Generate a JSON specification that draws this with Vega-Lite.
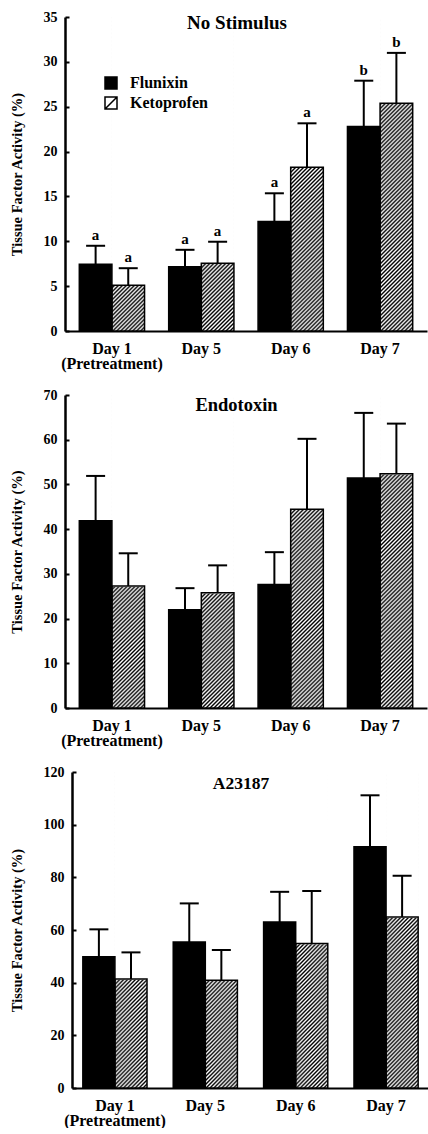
{
  "$schema": "https://vega.github.io/schema/vega-lite/v6.json",
  "background": "white",
  "padding": {"left": 9, "top": 10, "right": 0, "bottom": 0},
  "spacing": 17,
  "bounds": "full",
  "datasets": {
    "tf": [
      {"panel": "No Stimulus", "day": "Day 1", "drug": "Flunixin", "mean": 7.45, "upper": 9.5, "letter": "a"},
      {"panel": "No Stimulus", "day": "Day 1", "drug": "Ketoprofen", "mean": 5.1, "upper": 7.0, "letter": "a"},
      {"panel": "No Stimulus", "day": "Day 5", "drug": "Flunixin", "mean": 7.15, "upper": 9.05, "letter": "a"},
      {"panel": "No Stimulus", "day": "Day 5", "drug": "Ketoprofen", "mean": 7.55, "upper": 9.95, "letter": "a"},
      {"panel": "No Stimulus", "day": "Day 6", "drug": "Flunixin", "mean": 12.2, "upper": 15.35, "letter": "a"},
      {"panel": "No Stimulus", "day": "Day 6", "drug": "Ketoprofen", "mean": 18.25, "upper": 23.15, "letter": "a"},
      {"panel": "No Stimulus", "day": "Day 7", "drug": "Flunixin", "mean": 22.8, "upper": 27.9, "letter": "b"},
      {"panel": "No Stimulus", "day": "Day 7", "drug": "Ketoprofen", "mean": 25.4, "upper": 31.0, "letter": "b"},
      {"panel": "Endotoxin", "day": "Day 1", "drug": "Flunixin", "mean": 41.85, "upper": 51.9, "letter": ""},
      {"panel": "Endotoxin", "day": "Day 1", "drug": "Ketoprofen", "mean": 27.3, "upper": 34.6, "letter": ""},
      {"panel": "Endotoxin", "day": "Day 5", "drug": "Flunixin", "mean": 22.0, "upper": 26.8, "letter": ""},
      {"panel": "Endotoxin", "day": "Day 5", "drug": "Ketoprofen", "mean": 25.8, "upper": 31.9, "letter": ""},
      {"panel": "Endotoxin", "day": "Day 6", "drug": "Flunixin", "mean": 27.6, "upper": 34.85, "letter": ""},
      {"panel": "Endotoxin", "day": "Day 6", "drug": "Ketoprofen", "mean": 44.45, "upper": 60.2, "letter": ""},
      {"panel": "Endotoxin", "day": "Day 7", "drug": "Flunixin", "mean": 51.45, "upper": 66.0, "letter": ""},
      {"panel": "Endotoxin", "day": "Day 7", "drug": "Ketoprofen", "mean": 52.4, "upper": 63.6, "letter": ""},
      {"panel": "A23187", "day": "Day 1", "drug": "Flunixin", "mean": 49.8, "upper": 60.25, "letter": ""},
      {"panel": "A23187", "day": "Day 1", "drug": "Ketoprofen", "mean": 41.4, "upper": 51.5, "letter": ""},
      {"panel": "A23187", "day": "Day 5", "drug": "Flunixin", "mean": 55.45, "upper": 70.1, "letter": ""},
      {"panel": "A23187", "day": "Day 5", "drug": "Ketoprofen", "mean": 40.9, "upper": 52.4, "letter": ""},
      {"panel": "A23187", "day": "Day 6", "drug": "Flunixin", "mean": 63.0, "upper": 74.5, "letter": ""},
      {"panel": "A23187", "day": "Day 6", "drug": "Ketoprofen", "mean": 54.9, "upper": 74.8, "letter": ""},
      {"panel": "A23187", "day": "Day 7", "drug": "Flunixin", "mean": 91.6, "upper": 111.15, "letter": ""},
      {"panel": "A23187", "day": "Day 7", "drug": "Ketoprofen", "mean": 64.9, "upper": 80.6, "letter": ""}
    ]
  },
  "resolve": {
    "scale": {"fill": "independent", "x": "independent", "y": "independent", "xOffset": "independent"},
    "legend": {"fill": "independent"}
  },
  "vconcat": [
    {
      "width": 362,
      "height": 314,
      "data": {"name": "tf"},
      "transform": [{"filter": "datum.panel === 'No Stimulus'"}],
      "layer": [
        {
          "encoding": {
            "x": {"field": "day", "type": "nominal", "sort": ["Day 1", "Day 5", "Day 6", "Day 7"], "title": null,
                  "scale": {"paddingInner": 0.27, "paddingOuter": 0.16},
                  "axis": {"labelExpr": "datum.value === 'Day 1' ? ['Day 1', '(Pretreatment)'] : datum.value"}},
            "xOffset": {"field": "drug", "type": "nominal", "sort": ["Flunixin", "Ketoprofen"], "scale": {"paddingInner": 0, "paddingOuter": 0}}
          },
          "layer": [
            {
              "transform": [{"filter": "datum.drug === 'Ketoprofen'"}],
              "mark": {"type": "bar", "strokeWidth": 0,
                "fill": {"gradient": "linear", "x1": 0, "y1": 0, "x2": 0.1134, "y2": 1.0921, "stops": [
                {"offset": 0, "color": "#000"}, {"offset": 0.0057, "color": "#fff"}, {"offset": 0.0115, "color": "#000"}, {"offset": 0.0172, "color": "#fff"},
                {"offset": 0.023, "color": "#000"}, {"offset": 0.0287, "color": "#fff"}, {"offset": 0.0345, "color": "#000"}, {"offset": 0.0402, "color": "#fff"},
                {"offset": 0.046, "color": "#000"}, {"offset": 0.0517, "color": "#fff"}, {"offset": 0.0575, "color": "#000"}, {"offset": 0.0632, "color": "#fff"},
                {"offset": 0.069, "color": "#000"}, {"offset": 0.0747, "color": "#fff"}, {"offset": 0.0805, "color": "#000"}, {"offset": 0.0862, "color": "#fff"},
                {"offset": 0.092, "color": "#000"}, {"offset": 0.0977, "color": "#fff"}, {"offset": 0.1034, "color": "#000"}, {"offset": 0.1092, "color": "#fff"},
                {"offset": 0.1149, "color": "#000"}, {"offset": 0.1207, "color": "#fff"}, {"offset": 0.1264, "color": "#000"}, {"offset": 0.1322, "color": "#fff"},
                {"offset": 0.1379, "color": "#000"}, {"offset": 0.1437, "color": "#fff"}, {"offset": 0.1494, "color": "#000"}, {"offset": 0.1552, "color": "#fff"},
                {"offset": 0.1609, "color": "#000"}, {"offset": 0.1667, "color": "#fff"}, {"offset": 0.1724, "color": "#000"}, {"offset": 0.1782, "color": "#fff"},
                {"offset": 0.1839, "color": "#000"}, {"offset": 0.1897, "color": "#fff"}, {"offset": 0.1954, "color": "#000"}, {"offset": 0.2011, "color": "#fff"},
                {"offset": 0.2069, "color": "#000"}, {"offset": 0.2126, "color": "#fff"}, {"offset": 0.2184, "color": "#000"}, {"offset": 0.2241, "color": "#fff"},
                {"offset": 0.2299, "color": "#000"}, {"offset": 0.2356, "color": "#fff"}, {"offset": 0.2414, "color": "#000"}, {"offset": 0.2471, "color": "#fff"},
                {"offset": 0.2529, "color": "#000"}, {"offset": 0.2586, "color": "#fff"}, {"offset": 0.2644, "color": "#000"}, {"offset": 0.2701, "color": "#fff"},
                {"offset": 0.2759, "color": "#000"}, {"offset": 0.2816, "color": "#fff"}, {"offset": 0.2874, "color": "#000"}, {"offset": 0.2931, "color": "#fff"},
                {"offset": 0.2989, "color": "#000"}, {"offset": 0.3046, "color": "#fff"}, {"offset": 0.3103, "color": "#000"}, {"offset": 0.3161, "color": "#fff"},
                {"offset": 0.3218, "color": "#000"}, {"offset": 0.3276, "color": "#fff"}, {"offset": 0.3333, "color": "#000"}, {"offset": 0.3391, "color": "#fff"},
                {"offset": 0.3448, "color": "#000"}, {"offset": 0.3506, "color": "#fff"}, {"offset": 0.3563, "color": "#000"}, {"offset": 0.3621, "color": "#fff"},
                {"offset": 0.3678, "color": "#000"}, {"offset": 0.3736, "color": "#fff"}, {"offset": 0.3793, "color": "#000"}, {"offset": 0.3851, "color": "#fff"},
                {"offset": 0.3908, "color": "#000"}, {"offset": 0.3966, "color": "#fff"}, {"offset": 0.4023, "color": "#000"}, {"offset": 0.408, "color": "#fff"},
                {"offset": 0.4138, "color": "#000"}, {"offset": 0.4195, "color": "#fff"}, {"offset": 0.4253, "color": "#000"}, {"offset": 0.431, "color": "#fff"},
                {"offset": 0.4368, "color": "#000"}, {"offset": 0.4425, "color": "#fff"}, {"offset": 0.4483, "color": "#000"}, {"offset": 0.454, "color": "#fff"},
                {"offset": 0.4598, "color": "#000"}, {"offset": 0.4655, "color": "#fff"}, {"offset": 0.4713, "color": "#000"}, {"offset": 0.477, "color": "#fff"},
                {"offset": 0.4828, "color": "#000"}, {"offset": 0.4885, "color": "#fff"}, {"offset": 0.4943, "color": "#000"}, {"offset": 0.5, "color": "#fff"},
                {"offset": 0.5057, "color": "#000"}, {"offset": 0.5115, "color": "#fff"}, {"offset": 0.5172, "color": "#000"}, {"offset": 0.523, "color": "#fff"},
                {"offset": 0.5287, "color": "#000"}, {"offset": 0.5345, "color": "#fff"}, {"offset": 0.5402, "color": "#000"}, {"offset": 0.546, "color": "#fff"},
                {"offset": 0.5517, "color": "#000"}, {"offset": 0.5575, "color": "#fff"}, {"offset": 0.5632, "color": "#000"}, {"offset": 0.569, "color": "#fff"},
                {"offset": 0.5747, "color": "#000"}, {"offset": 0.5805, "color": "#fff"}, {"offset": 0.5862, "color": "#000"}, {"offset": 0.592, "color": "#fff"},
                {"offset": 0.5977, "color": "#000"}, {"offset": 0.6034, "color": "#fff"}, {"offset": 0.6092, "color": "#000"}, {"offset": 0.6149, "color": "#fff"},
                {"offset": 0.6207, "color": "#000"}, {"offset": 0.6264, "color": "#fff"}, {"offset": 0.6322, "color": "#000"}, {"offset": 0.6379, "color": "#fff"},
                {"offset": 0.6437, "color": "#000"}, {"offset": 0.6494, "color": "#fff"}, {"offset": 0.6552, "color": "#000"}, {"offset": 0.6609, "color": "#fff"},
                {"offset": 0.6667, "color": "#000"}, {"offset": 0.6724, "color": "#fff"}, {"offset": 0.6782, "color": "#000"}, {"offset": 0.6839, "color": "#fff"},
                {"offset": 0.6897, "color": "#000"}, {"offset": 0.6954, "color": "#fff"}, {"offset": 0.7011, "color": "#000"}, {"offset": 0.7069, "color": "#fff"},
                {"offset": 0.7126, "color": "#000"}, {"offset": 0.7184, "color": "#fff"}, {"offset": 0.7241, "color": "#000"}, {"offset": 0.7299, "color": "#fff"},
                {"offset": 0.7356, "color": "#000"}, {"offset": 0.7414, "color": "#fff"}, {"offset": 0.7471, "color": "#000"}, {"offset": 0.7529, "color": "#fff"},
                {"offset": 0.7586, "color": "#000"}, {"offset": 0.7644, "color": "#fff"}, {"offset": 0.7701, "color": "#000"}, {"offset": 0.7759, "color": "#fff"},
                {"offset": 0.7816, "color": "#000"}, {"offset": 0.7874, "color": "#fff"}, {"offset": 0.7931, "color": "#000"}, {"offset": 0.7989, "color": "#fff"},
                {"offset": 0.8046, "color": "#000"}, {"offset": 0.8103, "color": "#fff"}, {"offset": 0.8161, "color": "#000"}, {"offset": 0.8218, "color": "#fff"},
                {"offset": 0.8276, "color": "#000"}, {"offset": 0.8333, "color": "#fff"}, {"offset": 0.8391, "color": "#000"}, {"offset": 0.8448, "color": "#fff"},
                {"offset": 0.8506, "color": "#000"}, {"offset": 0.8563, "color": "#fff"}, {"offset": 0.8621, "color": "#000"}, {"offset": 0.8678, "color": "#fff"},
                {"offset": 0.8736, "color": "#000"}, {"offset": 0.8793, "color": "#fff"}, {"offset": 0.8851, "color": "#000"}, {"offset": 0.8908, "color": "#fff"},
                {"offset": 0.8966, "color": "#000"}, {"offset": 0.9023, "color": "#fff"}, {"offset": 0.908, "color": "#000"}, {"offset": 0.9138, "color": "#fff"},
                {"offset": 0.9195, "color": "#000"}, {"offset": 0.9253, "color": "#fff"}, {"offset": 0.931, "color": "#000"}, {"offset": 0.9368, "color": "#fff"},
                {"offset": 0.9425, "color": "#000"}, {"offset": 0.9483, "color": "#fff"}, {"offset": 0.954, "color": "#000"}, {"offset": 0.9598, "color": "#fff"},
                {"offset": 0.9655, "color": "#000"}, {"offset": 0.9713, "color": "#fff"}, {"offset": 0.977, "color": "#000"}, {"offset": 0.9828, "color": "#fff"},
                {"offset": 0.9885, "color": "#000"}, {"offset": 0.9943, "color": "#fff"}, {"offset": 1, "color": "#000"}]}},
              "encoding": {
                "y": {"datum": 35, "type": "quantitative", "title": "Tissue Factor Activity (%)",
                      "scale": {"domain": [0, 35], "nice": false},
                      "axis": {"values": [0, 2.5, 5, 7.5, 10, 12.5, 15, 17.5, 20, 22.5, 25, 27.5, 30, 32.5, 35], "labelExpr": "datum.value % 5 === 0 ? datum.label : ''"}}
              }
            },
            {
              "transform": [{"filter": "datum.drug === 'Ketoprofen'"}],
              "mark": {"type": "bar", "fill": "#ffffff", "stroke": "#ffffff", "strokeWidth": 1.5},
              "encoding": {
                "y": {"field": "mean", "type": "quantitative", "title": "Tissue Factor Activity (%)"},
                "y2": {"datum": 35}
              }
            },
            {
              "mark": {"type": "bar", "stroke": "#000000", "strokeWidth": 1.5},
              "encoding": {
                "y": {"field": "mean", "type": "quantitative", "stack": null, "title": "Tissue Factor Activity (%)"},
                "fill": {"field": "drug", "type": "nominal", "scale": {"domain": ["Flunixin", "Ketoprofen"], "range": ["#000000", "transparent"]},
                         "legend": {"title": null, "orient": "none", "legendX": 38, "legendY": 58, "padding": 0,
                                    "symbolType": "M-1,-1H1V1H-1Z M-1,1L1,-1", "symbolSize": 144, "symbolStrokeWidth": 1.5, "symbolStrokeColor": "#000000",
                                    "labelFont": "Liberation Serif", "labelFontWeight": "bold", "labelFontSize": 16, "labelColor": "#000000",
                                    "labelOffset": 11, "rowPadding": 2, "zindex": 1}}
              }
            },
            {
              "mark": {"type": "rule", "color": "#000000", "strokeWidth": 2},
              "encoding": {
                "y": {"field": "mean", "type": "quantitative", "title": "Tissue Factor Activity (%)"},
                "y2": {"field": "upper"}
              }
            },
            {
              "mark": {"type": "tick", "orient": "horizontal", "color": "#000000", "size": 19, "thickness": 2, "opacity": 1},
              "encoding": {
                "y": {"field": "upper", "type": "quantitative", "title": "Tissue Factor Activity (%)"}
              }
            },
            {
              "transform": [{"filter": "datum.letter !== ''"}],
              "mark": {"type": "text", "color": "#000000", "font": "Liberation Serif", "fontWeight": "bold", "fontSize": 15, "baseline": "alphabetic", "dy": -6},
              "encoding": {
                "y": {"field": "upper", "type": "quantitative", "title": "Tissue Factor Activity (%)"},
                "text": {"field": "letter"}
              }
            }
          ]
        },
        {
          "transform": [{"filter": "datum.day === 'Day 1' && datum.drug === 'Flunixin'"}],
          "mark": {"type": "text", "color": "#000000", "font": "Liberation Serif", "fontWeight": "bold", "fontSize": 19, "baseline": "alphabetic", "align": "center", "dx": -9, "dy": 12},
          "encoding": {
            "y": {"datum": 35, "type": "quantitative"},
            "text": {"field": "panel"}
          }
        }
      ]
    },
    {
      "width": 362,
      "height": 313,
      "data": {"name": "tf"},
      "transform": [{"filter": "datum.panel === 'Endotoxin'"}],
      "layer": [
        {
          "encoding": {
            "x": {"field": "day", "type": "nominal", "sort": ["Day 1", "Day 5", "Day 6", "Day 7"], "title": null,
                  "scale": {"paddingInner": 0.27, "paddingOuter": 0.16},
                  "axis": {"labelExpr": "datum.value === 'Day 1' ? ['Day 1', '(Pretreatment)'] : datum.value"}},
            "xOffset": {"field": "drug", "type": "nominal", "sort": ["Flunixin", "Ketoprofen"], "scale": {"paddingInner": 0, "paddingOuter": 0}}
          },
          "layer": [
            {
              "transform": [{"filter": "datum.drug === 'Ketoprofen'"}],
              "mark": {"type": "bar", "strokeWidth": 0,
                "fill": {"gradient": "linear", "x1": 0, "y1": 0, "x2": 0.1134, "y2": 1.0921, "stops": [
                {"offset": 0, "color": "#000"}, {"offset": 0.0057, "color": "#fff"}, {"offset": 0.0115, "color": "#000"}, {"offset": 0.0172, "color": "#fff"},
                {"offset": 0.023, "color": "#000"}, {"offset": 0.0287, "color": "#fff"}, {"offset": 0.0345, "color": "#000"}, {"offset": 0.0402, "color": "#fff"},
                {"offset": 0.046, "color": "#000"}, {"offset": 0.0517, "color": "#fff"}, {"offset": 0.0575, "color": "#000"}, {"offset": 0.0632, "color": "#fff"},
                {"offset": 0.069, "color": "#000"}, {"offset": 0.0747, "color": "#fff"}, {"offset": 0.0805, "color": "#000"}, {"offset": 0.0862, "color": "#fff"},
                {"offset": 0.092, "color": "#000"}, {"offset": 0.0977, "color": "#fff"}, {"offset": 0.1034, "color": "#000"}, {"offset": 0.1092, "color": "#fff"},
                {"offset": 0.1149, "color": "#000"}, {"offset": 0.1207, "color": "#fff"}, {"offset": 0.1264, "color": "#000"}, {"offset": 0.1322, "color": "#fff"},
                {"offset": 0.1379, "color": "#000"}, {"offset": 0.1437, "color": "#fff"}, {"offset": 0.1494, "color": "#000"}, {"offset": 0.1552, "color": "#fff"},
                {"offset": 0.1609, "color": "#000"}, {"offset": 0.1667, "color": "#fff"}, {"offset": 0.1724, "color": "#000"}, {"offset": 0.1782, "color": "#fff"},
                {"offset": 0.1839, "color": "#000"}, {"offset": 0.1897, "color": "#fff"}, {"offset": 0.1954, "color": "#000"}, {"offset": 0.2011, "color": "#fff"},
                {"offset": 0.2069, "color": "#000"}, {"offset": 0.2126, "color": "#fff"}, {"offset": 0.2184, "color": "#000"}, {"offset": 0.2241, "color": "#fff"},
                {"offset": 0.2299, "color": "#000"}, {"offset": 0.2356, "color": "#fff"}, {"offset": 0.2414, "color": "#000"}, {"offset": 0.2471, "color": "#fff"},
                {"offset": 0.2529, "color": "#000"}, {"offset": 0.2586, "color": "#fff"}, {"offset": 0.2644, "color": "#000"}, {"offset": 0.2701, "color": "#fff"},
                {"offset": 0.2759, "color": "#000"}, {"offset": 0.2816, "color": "#fff"}, {"offset": 0.2874, "color": "#000"}, {"offset": 0.2931, "color": "#fff"},
                {"offset": 0.2989, "color": "#000"}, {"offset": 0.3046, "color": "#fff"}, {"offset": 0.3103, "color": "#000"}, {"offset": 0.3161, "color": "#fff"},
                {"offset": 0.3218, "color": "#000"}, {"offset": 0.3276, "color": "#fff"}, {"offset": 0.3333, "color": "#000"}, {"offset": 0.3391, "color": "#fff"},
                {"offset": 0.3448, "color": "#000"}, {"offset": 0.3506, "color": "#fff"}, {"offset": 0.3563, "color": "#000"}, {"offset": 0.3621, "color": "#fff"},
                {"offset": 0.3678, "color": "#000"}, {"offset": 0.3736, "color": "#fff"}, {"offset": 0.3793, "color": "#000"}, {"offset": 0.3851, "color": "#fff"},
                {"offset": 0.3908, "color": "#000"}, {"offset": 0.3966, "color": "#fff"}, {"offset": 0.4023, "color": "#000"}, {"offset": 0.408, "color": "#fff"},
                {"offset": 0.4138, "color": "#000"}, {"offset": 0.4195, "color": "#fff"}, {"offset": 0.4253, "color": "#000"}, {"offset": 0.431, "color": "#fff"},
                {"offset": 0.4368, "color": "#000"}, {"offset": 0.4425, "color": "#fff"}, {"offset": 0.4483, "color": "#000"}, {"offset": 0.454, "color": "#fff"},
                {"offset": 0.4598, "color": "#000"}, {"offset": 0.4655, "color": "#fff"}, {"offset": 0.4713, "color": "#000"}, {"offset": 0.477, "color": "#fff"},
                {"offset": 0.4828, "color": "#000"}, {"offset": 0.4885, "color": "#fff"}, {"offset": 0.4943, "color": "#000"}, {"offset": 0.5, "color": "#fff"},
                {"offset": 0.5057, "color": "#000"}, {"offset": 0.5115, "color": "#fff"}, {"offset": 0.5172, "color": "#000"}, {"offset": 0.523, "color": "#fff"},
                {"offset": 0.5287, "color": "#000"}, {"offset": 0.5345, "color": "#fff"}, {"offset": 0.5402, "color": "#000"}, {"offset": 0.546, "color": "#fff"},
                {"offset": 0.5517, "color": "#000"}, {"offset": 0.5575, "color": "#fff"}, {"offset": 0.5632, "color": "#000"}, {"offset": 0.569, "color": "#fff"},
                {"offset": 0.5747, "color": "#000"}, {"offset": 0.5805, "color": "#fff"}, {"offset": 0.5862, "color": "#000"}, {"offset": 0.592, "color": "#fff"},
                {"offset": 0.5977, "color": "#000"}, {"offset": 0.6034, "color": "#fff"}, {"offset": 0.6092, "color": "#000"}, {"offset": 0.6149, "color": "#fff"},
                {"offset": 0.6207, "color": "#000"}, {"offset": 0.6264, "color": "#fff"}, {"offset": 0.6322, "color": "#000"}, {"offset": 0.6379, "color": "#fff"},
                {"offset": 0.6437, "color": "#000"}, {"offset": 0.6494, "color": "#fff"}, {"offset": 0.6552, "color": "#000"}, {"offset": 0.6609, "color": "#fff"},
                {"offset": 0.6667, "color": "#000"}, {"offset": 0.6724, "color": "#fff"}, {"offset": 0.6782, "color": "#000"}, {"offset": 0.6839, "color": "#fff"},
                {"offset": 0.6897, "color": "#000"}, {"offset": 0.6954, "color": "#fff"}, {"offset": 0.7011, "color": "#000"}, {"offset": 0.7069, "color": "#fff"},
                {"offset": 0.7126, "color": "#000"}, {"offset": 0.7184, "color": "#fff"}, {"offset": 0.7241, "color": "#000"}, {"offset": 0.7299, "color": "#fff"},
                {"offset": 0.7356, "color": "#000"}, {"offset": 0.7414, "color": "#fff"}, {"offset": 0.7471, "color": "#000"}, {"offset": 0.7529, "color": "#fff"},
                {"offset": 0.7586, "color": "#000"}, {"offset": 0.7644, "color": "#fff"}, {"offset": 0.7701, "color": "#000"}, {"offset": 0.7759, "color": "#fff"},
                {"offset": 0.7816, "color": "#000"}, {"offset": 0.7874, "color": "#fff"}, {"offset": 0.7931, "color": "#000"}, {"offset": 0.7989, "color": "#fff"},
                {"offset": 0.8046, "color": "#000"}, {"offset": 0.8103, "color": "#fff"}, {"offset": 0.8161, "color": "#000"}, {"offset": 0.8218, "color": "#fff"},
                {"offset": 0.8276, "color": "#000"}, {"offset": 0.8333, "color": "#fff"}, {"offset": 0.8391, "color": "#000"}, {"offset": 0.8448, "color": "#fff"},
                {"offset": 0.8506, "color": "#000"}, {"offset": 0.8563, "color": "#fff"}, {"offset": 0.8621, "color": "#000"}, {"offset": 0.8678, "color": "#fff"},
                {"offset": 0.8736, "color": "#000"}, {"offset": 0.8793, "color": "#fff"}, {"offset": 0.8851, "color": "#000"}, {"offset": 0.8908, "color": "#fff"},
                {"offset": 0.8966, "color": "#000"}, {"offset": 0.9023, "color": "#fff"}, {"offset": 0.908, "color": "#000"}, {"offset": 0.9138, "color": "#fff"},
                {"offset": 0.9195, "color": "#000"}, {"offset": 0.9253, "color": "#fff"}, {"offset": 0.931, "color": "#000"}, {"offset": 0.9368, "color": "#fff"},
                {"offset": 0.9425, "color": "#000"}, {"offset": 0.9483, "color": "#fff"}, {"offset": 0.954, "color": "#000"}, {"offset": 0.9598, "color": "#fff"},
                {"offset": 0.9655, "color": "#000"}, {"offset": 0.9713, "color": "#fff"}, {"offset": 0.977, "color": "#000"}, {"offset": 0.9828, "color": "#fff"},
                {"offset": 0.9885, "color": "#000"}, {"offset": 0.9943, "color": "#fff"}, {"offset": 1, "color": "#000"}]}},
              "encoding": {
                "y": {"datum": 70, "type": "quantitative", "title": "Tissue Factor Activity (%)",
                      "scale": {"domain": [0, 70], "nice": false},
                      "axis": {"values": [0, 5, 10, 15, 20, 25, 30, 35, 40, 45, 50, 55, 60, 65, 70], "labelExpr": "datum.value % 10 === 0 ? datum.label : ''"}}
              }
            },
            {
              "transform": [{"filter": "datum.drug === 'Ketoprofen'"}],
              "mark": {"type": "bar", "fill": "#ffffff", "stroke": "#ffffff", "strokeWidth": 1.5},
              "encoding": {
                "y": {"field": "mean", "type": "quantitative", "title": "Tissue Factor Activity (%)"},
                "y2": {"datum": 70}
              }
            },
            {
              "mark": {"type": "bar", "stroke": "#000000", "strokeWidth": 1.5},
              "encoding": {
                "y": {"field": "mean", "type": "quantitative", "stack": null, "title": "Tissue Factor Activity (%)"},
                "fill": {"field": "drug", "type": "nominal", "scale": {"domain": ["Flunixin", "Ketoprofen"], "range": ["#000000", "transparent"]}, "legend": null}
              }
            },
            {
              "mark": {"type": "rule", "color": "#000000", "strokeWidth": 2},
              "encoding": {
                "y": {"field": "mean", "type": "quantitative", "title": "Tissue Factor Activity (%)"},
                "y2": {"field": "upper"}
              }
            },
            {
              "mark": {"type": "tick", "orient": "horizontal", "color": "#000000", "size": 19, "thickness": 2, "opacity": 1},
              "encoding": {
                "y": {"field": "upper", "type": "quantitative", "title": "Tissue Factor Activity (%)"}
              }
            }
          ]
        },
        {
          "transform": [{"filter": "datum.day === 'Day 1' && datum.drug === 'Flunixin'"}],
          "mark": {"type": "text", "color": "#000000", "font": "Liberation Serif", "fontWeight": "bold", "fontSize": 18.5, "baseline": "alphabetic", "align": "center", "dx": -9.5, "dy": 16},
          "encoding": {
            "y": {"datum": 70, "type": "quantitative"},
            "text": {"field": "panel"}
          }
        }
      ]
    },
    {
      "width": 364,
      "height": 316,
      "data": {"name": "tf"},
      "transform": [{"filter": "datum.panel === 'A23187'"}],
      "layer": [
        {
          "encoding": {
            "x": {"field": "day", "type": "nominal", "sort": ["Day 1", "Day 5", "Day 6", "Day 7"], "title": null,
                  "scale": {"paddingInner": 0.29, "paddingOuter": 0.12, "range": [7, 364]},
                  "axis": {"labelExpr": "datum.value === 'Day 1' ? ['Day 1', '(Pretreatment)'] : datum.value"}},
            "xOffset": {"field": "drug", "type": "nominal", "sort": ["Flunixin", "Ketoprofen"], "scale": {"paddingInner": 0, "paddingOuter": 0}}
          },
          "layer": [
            {
              "transform": [{"filter": "datum.drug === 'Ketoprofen'"}],
              "mark": {"type": "bar", "strokeWidth": 0,
                "fill": {"gradient": "linear", "x1": 0, "y1": 0, "x2": 0.1134, "y2": 1.0921, "stops": [
                {"offset": 0, "color": "#000"}, {"offset": 0.0057, "color": "#fff"}, {"offset": 0.0115, "color": "#000"}, {"offset": 0.0172, "color": "#fff"},
                {"offset": 0.023, "color": "#000"}, {"offset": 0.0287, "color": "#fff"}, {"offset": 0.0345, "color": "#000"}, {"offset": 0.0402, "color": "#fff"},
                {"offset": 0.046, "color": "#000"}, {"offset": 0.0517, "color": "#fff"}, {"offset": 0.0575, "color": "#000"}, {"offset": 0.0632, "color": "#fff"},
                {"offset": 0.069, "color": "#000"}, {"offset": 0.0747, "color": "#fff"}, {"offset": 0.0805, "color": "#000"}, {"offset": 0.0862, "color": "#fff"},
                {"offset": 0.092, "color": "#000"}, {"offset": 0.0977, "color": "#fff"}, {"offset": 0.1034, "color": "#000"}, {"offset": 0.1092, "color": "#fff"},
                {"offset": 0.1149, "color": "#000"}, {"offset": 0.1207, "color": "#fff"}, {"offset": 0.1264, "color": "#000"}, {"offset": 0.1322, "color": "#fff"},
                {"offset": 0.1379, "color": "#000"}, {"offset": 0.1437, "color": "#fff"}, {"offset": 0.1494, "color": "#000"}, {"offset": 0.1552, "color": "#fff"},
                {"offset": 0.1609, "color": "#000"}, {"offset": 0.1667, "color": "#fff"}, {"offset": 0.1724, "color": "#000"}, {"offset": 0.1782, "color": "#fff"},
                {"offset": 0.1839, "color": "#000"}, {"offset": 0.1897, "color": "#fff"}, {"offset": 0.1954, "color": "#000"}, {"offset": 0.2011, "color": "#fff"},
                {"offset": 0.2069, "color": "#000"}, {"offset": 0.2126, "color": "#fff"}, {"offset": 0.2184, "color": "#000"}, {"offset": 0.2241, "color": "#fff"},
                {"offset": 0.2299, "color": "#000"}, {"offset": 0.2356, "color": "#fff"}, {"offset": 0.2414, "color": "#000"}, {"offset": 0.2471, "color": "#fff"},
                {"offset": 0.2529, "color": "#000"}, {"offset": 0.2586, "color": "#fff"}, {"offset": 0.2644, "color": "#000"}, {"offset": 0.2701, "color": "#fff"},
                {"offset": 0.2759, "color": "#000"}, {"offset": 0.2816, "color": "#fff"}, {"offset": 0.2874, "color": "#000"}, {"offset": 0.2931, "color": "#fff"},
                {"offset": 0.2989, "color": "#000"}, {"offset": 0.3046, "color": "#fff"}, {"offset": 0.3103, "color": "#000"}, {"offset": 0.3161, "color": "#fff"},
                {"offset": 0.3218, "color": "#000"}, {"offset": 0.3276, "color": "#fff"}, {"offset": 0.3333, "color": "#000"}, {"offset": 0.3391, "color": "#fff"},
                {"offset": 0.3448, "color": "#000"}, {"offset": 0.3506, "color": "#fff"}, {"offset": 0.3563, "color": "#000"}, {"offset": 0.3621, "color": "#fff"},
                {"offset": 0.3678, "color": "#000"}, {"offset": 0.3736, "color": "#fff"}, {"offset": 0.3793, "color": "#000"}, {"offset": 0.3851, "color": "#fff"},
                {"offset": 0.3908, "color": "#000"}, {"offset": 0.3966, "color": "#fff"}, {"offset": 0.4023, "color": "#000"}, {"offset": 0.408, "color": "#fff"},
                {"offset": 0.4138, "color": "#000"}, {"offset": 0.4195, "color": "#fff"}, {"offset": 0.4253, "color": "#000"}, {"offset": 0.431, "color": "#fff"},
                {"offset": 0.4368, "color": "#000"}, {"offset": 0.4425, "color": "#fff"}, {"offset": 0.4483, "color": "#000"}, {"offset": 0.454, "color": "#fff"},
                {"offset": 0.4598, "color": "#000"}, {"offset": 0.4655, "color": "#fff"}, {"offset": 0.4713, "color": "#000"}, {"offset": 0.477, "color": "#fff"},
                {"offset": 0.4828, "color": "#000"}, {"offset": 0.4885, "color": "#fff"}, {"offset": 0.4943, "color": "#000"}, {"offset": 0.5, "color": "#fff"},
                {"offset": 0.5057, "color": "#000"}, {"offset": 0.5115, "color": "#fff"}, {"offset": 0.5172, "color": "#000"}, {"offset": 0.523, "color": "#fff"},
                {"offset": 0.5287, "color": "#000"}, {"offset": 0.5345, "color": "#fff"}, {"offset": 0.5402, "color": "#000"}, {"offset": 0.546, "color": "#fff"},
                {"offset": 0.5517, "color": "#000"}, {"offset": 0.5575, "color": "#fff"}, {"offset": 0.5632, "color": "#000"}, {"offset": 0.569, "color": "#fff"},
                {"offset": 0.5747, "color": "#000"}, {"offset": 0.5805, "color": "#fff"}, {"offset": 0.5862, "color": "#000"}, {"offset": 0.592, "color": "#fff"},
                {"offset": 0.5977, "color": "#000"}, {"offset": 0.6034, "color": "#fff"}, {"offset": 0.6092, "color": "#000"}, {"offset": 0.6149, "color": "#fff"},
                {"offset": 0.6207, "color": "#000"}, {"offset": 0.6264, "color": "#fff"}, {"offset": 0.6322, "color": "#000"}, {"offset": 0.6379, "color": "#fff"},
                {"offset": 0.6437, "color": "#000"}, {"offset": 0.6494, "color": "#fff"}, {"offset": 0.6552, "color": "#000"}, {"offset": 0.6609, "color": "#fff"},
                {"offset": 0.6667, "color": "#000"}, {"offset": 0.6724, "color": "#fff"}, {"offset": 0.6782, "color": "#000"}, {"offset": 0.6839, "color": "#fff"},
                {"offset": 0.6897, "color": "#000"}, {"offset": 0.6954, "color": "#fff"}, {"offset": 0.7011, "color": "#000"}, {"offset": 0.7069, "color": "#fff"},
                {"offset": 0.7126, "color": "#000"}, {"offset": 0.7184, "color": "#fff"}, {"offset": 0.7241, "color": "#000"}, {"offset": 0.7299, "color": "#fff"},
                {"offset": 0.7356, "color": "#000"}, {"offset": 0.7414, "color": "#fff"}, {"offset": 0.7471, "color": "#000"}, {"offset": 0.7529, "color": "#fff"},
                {"offset": 0.7586, "color": "#000"}, {"offset": 0.7644, "color": "#fff"}, {"offset": 0.7701, "color": "#000"}, {"offset": 0.7759, "color": "#fff"},
                {"offset": 0.7816, "color": "#000"}, {"offset": 0.7874, "color": "#fff"}, {"offset": 0.7931, "color": "#000"}, {"offset": 0.7989, "color": "#fff"},
                {"offset": 0.8046, "color": "#000"}, {"offset": 0.8103, "color": "#fff"}, {"offset": 0.8161, "color": "#000"}, {"offset": 0.8218, "color": "#fff"},
                {"offset": 0.8276, "color": "#000"}, {"offset": 0.8333, "color": "#fff"}, {"offset": 0.8391, "color": "#000"}, {"offset": 0.8448, "color": "#fff"},
                {"offset": 0.8506, "color": "#000"}, {"offset": 0.8563, "color": "#fff"}, {"offset": 0.8621, "color": "#000"}, {"offset": 0.8678, "color": "#fff"},
                {"offset": 0.8736, "color": "#000"}, {"offset": 0.8793, "color": "#fff"}, {"offset": 0.8851, "color": "#000"}, {"offset": 0.8908, "color": "#fff"},
                {"offset": 0.8966, "color": "#000"}, {"offset": 0.9023, "color": "#fff"}, {"offset": 0.908, "color": "#000"}, {"offset": 0.9138, "color": "#fff"},
                {"offset": 0.9195, "color": "#000"}, {"offset": 0.9253, "color": "#fff"}, {"offset": 0.931, "color": "#000"}, {"offset": 0.9368, "color": "#fff"},
                {"offset": 0.9425, "color": "#000"}, {"offset": 0.9483, "color": "#fff"}, {"offset": 0.954, "color": "#000"}, {"offset": 0.9598, "color": "#fff"},
                {"offset": 0.9655, "color": "#000"}, {"offset": 0.9713, "color": "#fff"}, {"offset": 0.977, "color": "#000"}, {"offset": 0.9828, "color": "#fff"},
                {"offset": 0.9885, "color": "#000"}, {"offset": 0.9943, "color": "#fff"}, {"offset": 1, "color": "#000"}]}},
              "encoding": {
                "y": {"datum": 120, "type": "quantitative", "title": "Tissue Factor Activity (%)",
                      "scale": {"domain": [0, 120], "nice": false},
                      "axis": {"offset": -7, "values": [0, 10, 20, 30, 40, 50, 60, 70, 80, 90, 100, 110, 120], "labelExpr": "datum.value % 20 === 0 ? datum.label : ''"}}
              }
            },
            {
              "transform": [{"filter": "datum.drug === 'Ketoprofen'"}],
              "mark": {"type": "bar", "fill": "#ffffff", "stroke": "#ffffff", "strokeWidth": 1.5},
              "encoding": {
                "y": {"field": "mean", "type": "quantitative", "title": "Tissue Factor Activity (%)"},
                "y2": {"datum": 120}
              }
            },
            {
              "mark": {"type": "bar", "stroke": "#000000", "strokeWidth": 1.5},
              "encoding": {
                "y": {"field": "mean", "type": "quantitative", "stack": null, "title": "Tissue Factor Activity (%)"},
                "fill": {"field": "drug", "type": "nominal", "scale": {"domain": ["Flunixin", "Ketoprofen"], "range": ["#000000", "transparent"]}, "legend": null}
              }
            },
            {
              "mark": {"type": "rule", "color": "#000000", "strokeWidth": 2},
              "encoding": {
                "y": {"field": "mean", "type": "quantitative", "title": "Tissue Factor Activity (%)"},
                "y2": {"field": "upper"}
              }
            },
            {
              "mark": {"type": "tick", "orient": "horizontal", "color": "#000000", "size": 19, "thickness": 2, "opacity": 1},
              "encoding": {
                "y": {"field": "upper", "type": "quantitative", "title": "Tissue Factor Activity (%)"}
              }
            }
          ]
        },
        {
          "transform": [{"filter": "datum.day === 'Day 1' && datum.drug === 'Flunixin'"}],
          "mark": {"type": "text", "color": "#000000", "font": "Liberation Serif", "fontWeight": "bold", "fontSize": 17.5, "baseline": "alphabetic", "align": "center", "dx": -6, "dy": 16.5},
          "encoding": {
            "y": {"datum": 120, "type": "quantitative"},
            "text": {"field": "panel"}
          }
        }
      ]
    }
  ],
  "config": {
    "view": {"stroke": null},
    "font": "Liberation Serif",
    "axis": {"labelFont": "Liberation Serif", "labelFontWeight": "bold", "labelColor": "#000000", "titleFont": "Liberation Serif", "titleFontWeight": "bold", "titleColor": "#000000", "domainColor": "#000000", "tickColor": "#000000", "grid": false, "zindex": 1, "labelOverlap": false},
    "axisX": {"ticks": false, "tickSize": 0, "domainWidth": 2, "labelFontSize": 16, "labelAngle": 0, "labelPadding": 9, "labelLineHeight": 15},
    "axisY": {"domainWidth": 2.5, "tickWidth": 2, "tickSize": -4, "labelFontSize": 14, "labelPadding": 12, "titleFontSize": 14.5, "titlePadding": 19}
  }
}
